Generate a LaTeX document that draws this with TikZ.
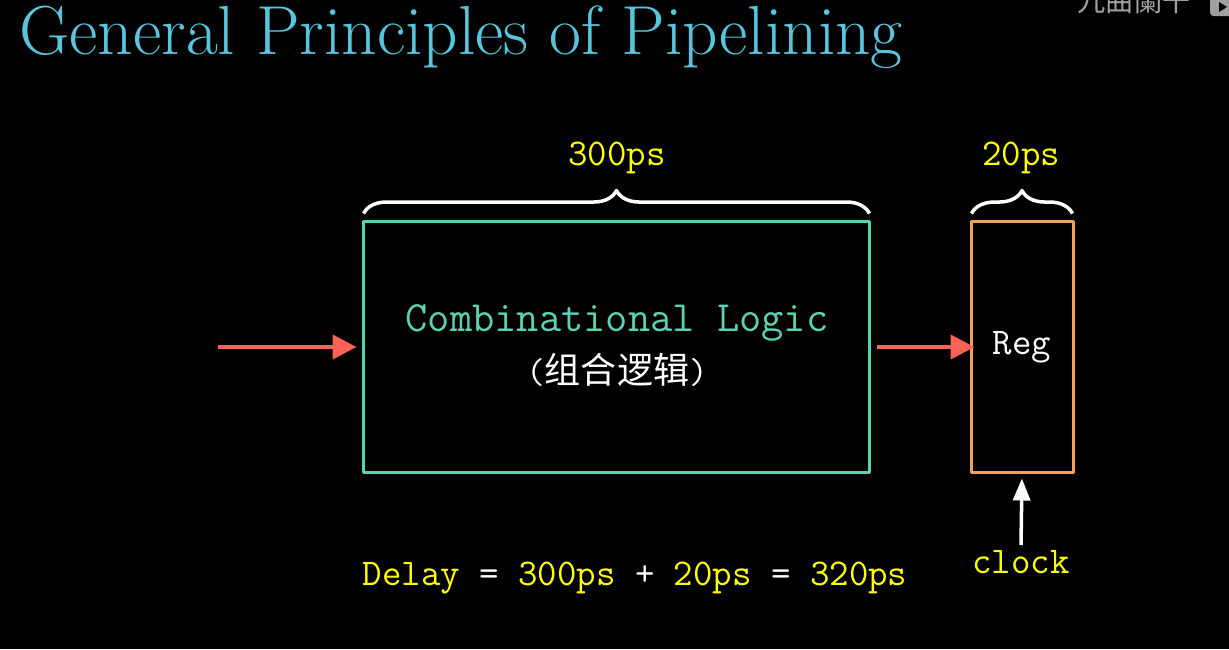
\documentclass[tikz,border=0pt]{standalone}
\usepackage{fontspec}
\newfontfamily\cjk{Noto Sans CJK SC}
\usetikzlibrary{arrows.meta,decorations.pathreplacing}
\definecolor{plTitle}{HTML}{58C4DD}
\definecolor{plTeal}{HTML}{5CD0B3}
\definecolor{plOrange}{HTML}{EDA35E}
\definecolor{plRed}{HTML}{FC6255}
\definecolor{plYellow}{HTML}{FFFF00}
\definecolor{plMark}{HTML}{A0A0A0}
\tikzset{
  pl diagram/.style={x=0.02cm, y=-0.02cm, line join=round},
  pl box/.style={draw, line width=1.7pt, minimum height=5.04cm, inner sep=0pt},
  pl arrow/.style={-{Triangle[length=0.48cm,width=0.48cm]}, draw=plRed, line width=2.3pt},
  pl clock/.style={-{Triangle[length=0.44cm,width=0.34cm]}, draw=white, line width=2pt},
  pl brace/.style={draw=white, line width=2pt,
    decorate, decoration={brace, amplitude=0.46cm}},
  pl label/.style={font=\fontsize{21.5}{24}\selectfont\ttfamily, text=plYellow, inner sep=0pt},
  pl mark/.style={font=\fontsize{16}{18}\selectfont\cjk, text=plMark, inner sep=0pt}
}
\begin{document}
\begin{tikzpicture}[pl diagram]
\fill[black] (0,0) rectangle (1229,649);
\useasboundingbox (0,0) rectangle (1229,649);
\begin{scope}
\clip (0,0) rectangle (1229,649);
\node[pl mark, anchor=south] (mark) at (1134,14) {九曲闌干};
\fill[plMark, rounded corners=2pt] (1210,-8) rectangle (1240,16);
\fill[black] (1219,2) -- (1219,12) -- (1227,7) -- cycle;
\end{scope}
% title
\node[anchor=base west, inner sep=0pt, text=plTitle, font=\fontsize{39.5}{44}\selectfont] (title) at (19,54) {General Principles of Pipelining};
% boxes
\node[pl box, draw=plTeal, minimum width=10.14cm] (logic) at (616.5,347) {};
\node[pl box, draw=plOrange, minimum width=2.04cm, text=white, font=\fontsize{21.5}{24}\selectfont\ttfamily] (reg) at (1022,347) {Reg};
\node[inner sep=0pt, text=plTeal, font=\fontsize{24.6}{28}\selectfont\ttfamily] (logictext) at (617,323) {Combinational Logic};
\node[inner sep=0pt, text=white, font=\fontsize{20.5}{24}\selectfont] (logiccn) at (617,370) {\ttfamily(\cjk 组合逻辑\ttfamily)};
% braces and delays
\draw[pl brace] ([xshift=0.04cm,yshift=0.12cm]logic.north west) -- ([xshift=-0.04cm,yshift=0.12cm]logic.north east);
\draw[pl brace] ([xshift=0.04cm,yshift=0.12cm]reg.north west) -- ([xshift=-0.04cm,yshift=0.12cm]reg.north east);
\node[pl label] (logicdelay) at (617,158) {300ps};
\node[pl label] (regdelay) at (1021,158) {20ps};
% signals
\coordinate (in) at (218,347);
\coordinate (clk) at (1021,545);
\draw[pl arrow, shorten >=0.1cm] (in) -- (logic.west);
\draw[pl arrow, shorten <=0.12cm, shorten >=-0.1cm] (logic.east) -- (reg.west);
\draw[pl clock, shorten >=0.08cm] (clk) -- (reg.south);
\node[pl label] (clock) at (1021,562) {clock};
\node[pl label] (delay) at (635,578) {Delay {\color{white}=} 300ps {\color{white}+} 20ps {\color{white}=} 320ps};
\end{tikzpicture}
\end{document}
